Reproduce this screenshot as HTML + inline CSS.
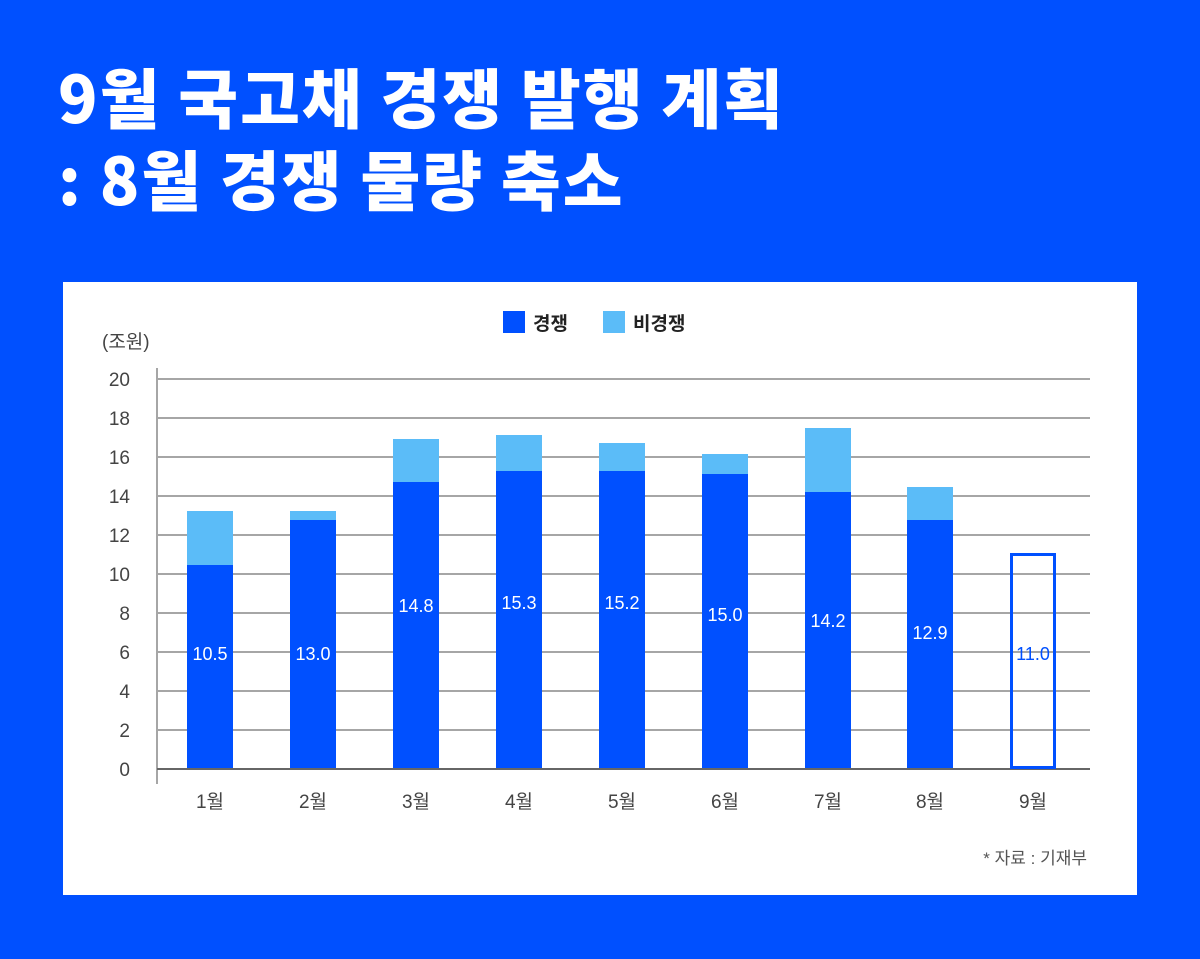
<!DOCTYPE html>
<html><head><meta charset="utf-8"><style>
body{margin:0;width:1200px;height:959px;background:#0050ff;position:relative;overflow:hidden;font-family:"Liberation Sans","Noto Sans CJK KR",sans-serif}
.t{position:absolute;left:58px;color:#fff;font-family:"Noto Sans CJK KR",sans-serif;font-weight:900;font-size:65px;line-height:65px;letter-spacing:2px;white-space:nowrap}
.panel{position:absolute;left:63px;top:282px;width:1074px;height:613px;background:#fff}
</style></head><body>
<div class="t" style="top:63px">9월 국고채 경쟁 발행 계획</div>
<div class="t" style="top:145px">: 8월 경쟁 물량 축소</div>
<div class="panel"></div>
<svg width="1200" height="959" style="position:absolute;left:0;top:0" font-family="Liberation Sans, Noto Sans CJK KR, sans-serif">
<g stroke="#a6a6a6" stroke-width="2">
<line x1="157" y1="379" x2="1090" y2="379"/><line x1="157" y1="418" x2="1090" y2="418"/><line x1="157" y1="457" x2="1090" y2="457"/><line x1="157" y1="496" x2="1090" y2="496"/><line x1="157" y1="535" x2="1090" y2="535"/><line x1="157" y1="574" x2="1090" y2="574"/><line x1="157" y1="613" x2="1090" y2="613"/><line x1="157" y1="652" x2="1090" y2="652"/><line x1="157" y1="691" x2="1090" y2="691"/><line x1="157" y1="730" x2="1090" y2="730"/>
<line x1="157" y1="368" x2="157" y2="784"/>
</g>
<line x1="157" y1="769" x2="1090" y2="769" stroke="#666" stroke-width="2"/>
<g font-size="19" fill="#444" text-anchor="end">
<text x="130" y="386">20</text><text x="130" y="425">18</text><text x="130" y="464">16</text><text x="130" y="503">14</text><text x="130" y="542">12</text><text x="130" y="581">10</text><text x="130" y="620">8</text><text x="130" y="659">6</text><text x="130" y="698">4</text><text x="130" y="737">2</text><text x="130" y="776">0</text>
</g>
<text x="102" y="348" font-size="19" fill="#444">(조원)</text>
<rect x="503" y="311" width="22" height="22" fill="#0050ff"/><text x="533" y="330" font-size="19" font-weight="bold" fill="#222">경쟁</text>
<rect x="603" y="311" width="22" height="22" fill="#5bbcf8"/><text x="633" y="330" font-size="19" font-weight="bold" fill="#222">비경쟁</text>
<g fill="#5bbcf8">
<rect x="187" y="511" width="46" height="54"/><rect x="290" y="511" width="46" height="9"/><rect x="393" y="439" width="46" height="43"/><rect x="496" y="435" width="46" height="36"/><rect x="599" y="443" width="46" height="28"/><rect x="702" y="454" width="46" height="20"/><rect x="805" y="428" width="46" height="64"/><rect x="907" y="487" width="46" height="33"/>
</g>
<g fill="#0050ff">
<rect x="187" y="565" width="46" height="203"/><rect x="290" y="520" width="46" height="248"/><rect x="393" y="482" width="46" height="286"/><rect x="496" y="471" width="46" height="297"/><rect x="599" y="471" width="46" height="297"/><rect x="702" y="474" width="46" height="294"/><rect x="805" y="492" width="46" height="276"/><rect x="907" y="520" width="46" height="248"/>
</g>
<rect x="1011.5" y="554.5" width="43" height="213" fill="none" stroke="#0050ff" stroke-width="3"/>
<g font-size="18" fill="#fff" text-anchor="middle">
<text x="210" y="660">10.5</text><text x="313" y="660">13.0</text><text x="416" y="612">14.8</text><text x="519" y="609">15.3</text><text x="622" y="609">15.2</text><text x="725" y="621">15.0</text><text x="828" y="627">14.2</text><text x="930" y="639">12.9</text>
<text x="1033" y="660" fill="#0050ff">11.0</text>
</g>
<g font-size="19" fill="#444" text-anchor="middle">
<text x="210" y="808">1월</text><text x="313" y="808">2월</text><text x="416" y="808">3월</text><text x="519" y="808">4월</text><text x="622" y="808">5월</text><text x="725" y="808">6월</text><text x="828" y="808">7월</text><text x="930" y="808">8월</text><text x="1033" y="808">9월</text>
</g>
<text x="1087" y="864" font-size="17" fill="#555" text-anchor="end">* 자료 : 기재부</text>
</svg>
</body></html>
